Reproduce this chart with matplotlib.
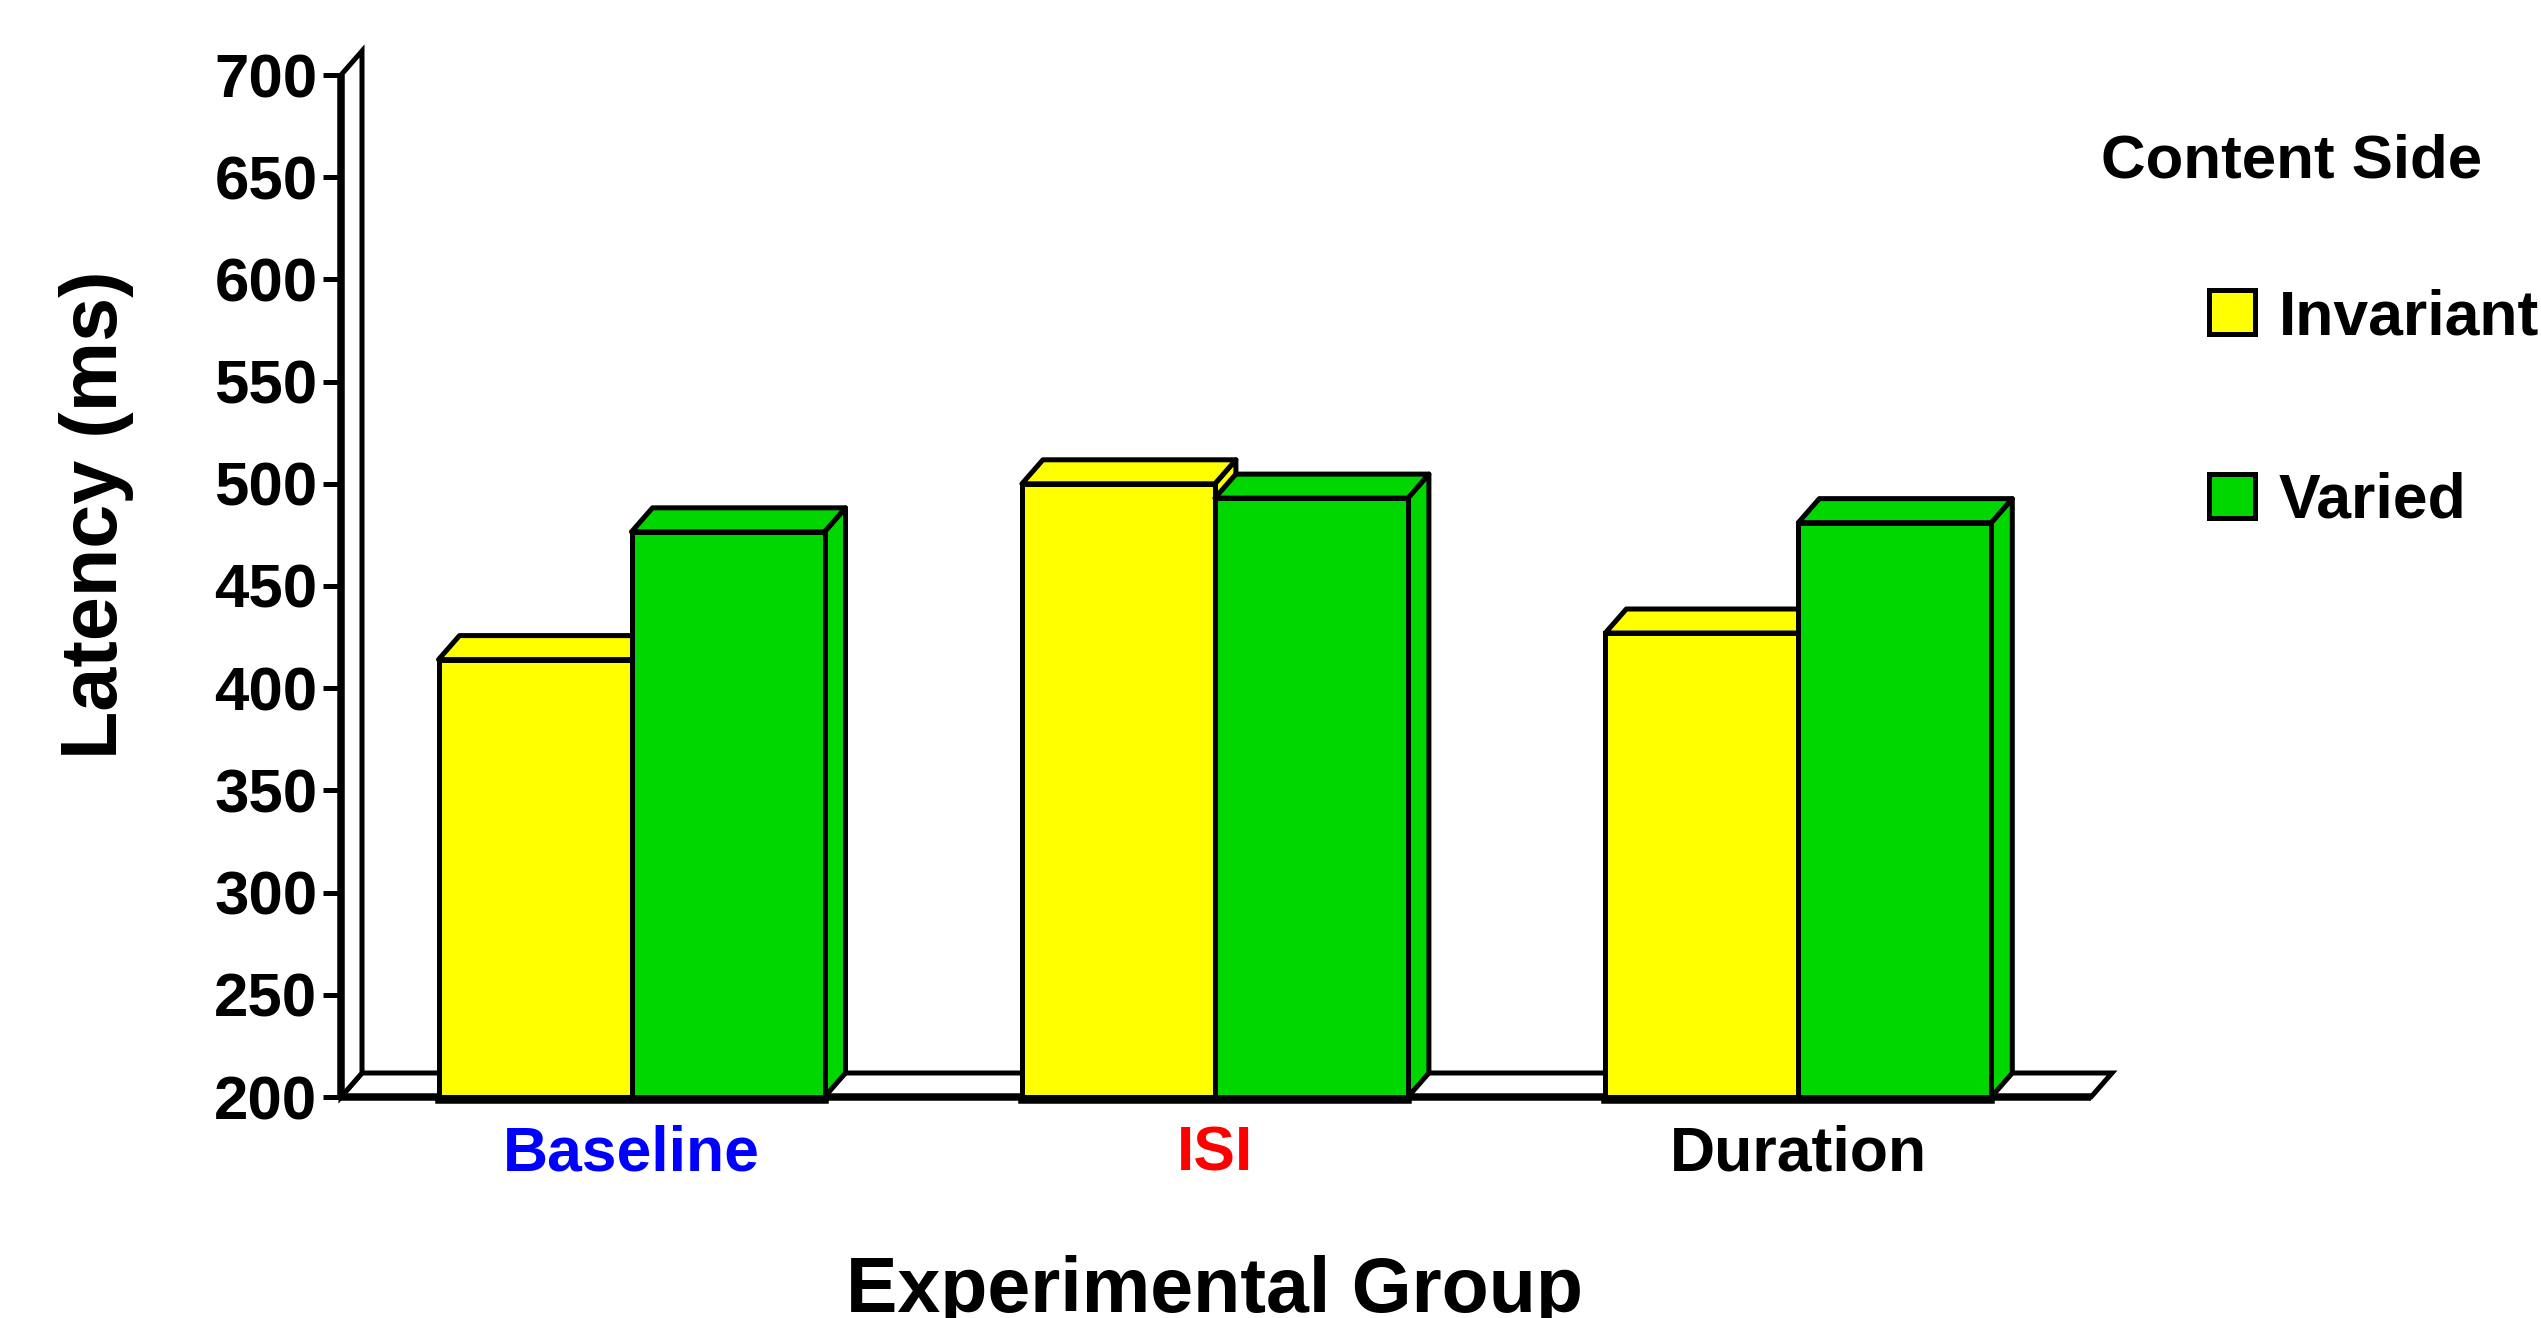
import numpy as np
import matplotlib
matplotlib.use('Agg')
import matplotlib.pyplot as plt
from matplotlib.patches import Polygon, Rectangle
from matplotlib.transforms import ScaledTranslation

plt.rcParams['font.family'] = ['Liberation Sans', 'DejaVu Sans']
plt.rcParams['font.weight'] = 'bold'

groups = ['Baseline', 'ISI', 'Duration']
group_colors = ['#0000ff', '#ff0000', '#000000']
invariant = [414, 500, 427]
varied = [476.5, 493, 481]
yticks = [200, 250, 300, 350, 400, 450, 500, 550, 600, 650, 700]

yellow = '#ffff00'
green = '#00d700'
lw = 3.6
thick = 5.4
W, H = 2541, 1318
left, right, top, bottom = 341, 2091, 75, 1097
# depth of the fake 3d, in pixels
dx_px, dy_px = 21, 24

fig = plt.figure(figsize=(W / 100, H / 100), dpi=100)
ax = fig.add_axes([left / W, 1 - bottom / H, (right - left) / W, (bottom - top) / H])
spacing = 583.4
ax.set_xlim((left - 631.5) / spacing, (right - 631.5) / spacing)
ax.set_ylim(200, 700)
ax.patch.set_visible(False)
for s in ax.spines.values():
    s.set_visible(False)

dx = dx_px / spacing
dy = dy_px * 500 / (bottom - top)
x0, x1 = ax.get_xlim()

# floor and back wall
ax.add_patch(Polygon([(x0, 200), (x0 + dx, 200 + dy), (x1 + dx, 200 + dy), (x1, 200)],
                     fc='white', ec='k', lw=lw, clip_on=False, zorder=1))
ax.add_patch(Polygon([(x0, 200), (x0 + dx, 200 + dy), (x0 + dx, 700 + dy), (x0, 700)],
                     fc='white', ec='k', lw=lw, clip_on=False, zorder=1))
ax.plot([x0, x1], [200, 200], color='k', lw=thick, clip_on=False, zorder=2, solid_capstyle='butt')
ax.plot([x0, x0], [200, 700], color='k', lw=thick, clip_on=False, zorder=2, solid_capstyle='butt')


def bar3d(x, w, v, color, z):
    ax.add_patch(Polygon([(x + w, 200), (x + w + dx, 200 + dy), (x + w + dx, v + dy), (x + w, v)],
                         fc=color, ec='k', lw=lw, clip_on=False, zorder=z, joinstyle='round'))
    ax.add_patch(Polygon([(x, v), (x + dx, v + dy), (x + w + dx, v + dy), (x + w, v)],
                         fc=color, ec='k', lw=lw, clip_on=False, zorder=z, joinstyle='round'))
    ax.bar(x, v - 200, w, bottom=200, align='edge', color=color, edgecolor='k', lw=lw,
           clip_on=False, zorder=z)


bw = 193 / spacing
down = ax.transData + ScaledTranslation(0, -2.5 / 100, fig.dpi_scale_trans)
for i in range(len(groups)):
    bar3d(i - bw, bw, invariant[i], yellow, 3)
    bar3d(i, bw, varied[i], green, 4)
    ax.plot([i - bw, i + bw], [200, 200], color='k', lw=thick, clip_on=False, zorder=5,
            solid_capstyle='projecting', transform=down)

ax.set_yticks(yticks)
ax.set_xticks([0, 1, 2])
ax.set_xticklabels(groups)
ax.tick_params(axis='y', labelsize=44.5, length=13, width=3.6, pad=4)
ax.tick_params(axis='x', labelsize=45, length=0, pad=20)
for lab, c in zip(ax.get_xticklabels(), group_colors):
    lab.set_color(c)

fig.text(96 / W, 1 - 515 / H, 'Latency (ms)', rotation=90, fontsize=57, ha='center', va='center')
fig.text(1215 / W, 1 - 1312 / H, 'Experimental Group', fontsize=55.5, ha='center', va='baseline')

# legend drawn by hand to keep the spacing of the original
fig.text(2292 / W, 1 - 162 / H, 'Content Side', fontsize=44.5, ha='center', va='center')
for name, c, yc, ty in zip(['Invariant', 'Varied'], [yellow, green], [312, 496], [318, 501]):
    fig.add_artist(Rectangle((2209 / W, 1 - (yc + 22) / H), 46 / W, 44 / H, fc=c, ec='k', lw=3.6,
                             transform=fig.transFigure))
    fig.text(2279 / W, 1 - ty / H, name, fontsize=45, ha='left', va='center')

fig.savefig('out.png', dpi=100)
